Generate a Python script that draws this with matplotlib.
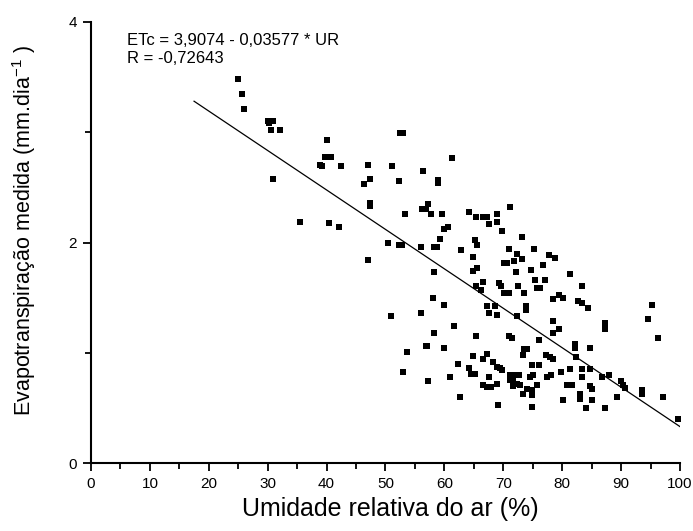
import matplotlib
matplotlib.use('Agg')
import matplotlib.pyplot as plt
from matplotlib.ticker import MultipleLocator

plt.rcParams['font.family'] = ['Liberation Sans', 'DejaVu Sans']
plt.rcParams['mathtext.fontset'] = 'custom'
plt.rcParams['mathtext.rm'] = 'Liberation Sans'
plt.rcParams['mathtext.it'] = 'Liberation Sans'

umidade = [24.9, 25.6, 25.9, 30.1, 30.9, 30.2, 30.5, 32.1, 30.9, 40.0,
           39.7, 40.8, 38.9, 39.2, 42.5, 47.0, 47.4, 46.4, 47.4, 47.4,
           35.5, 40.4, 42.1, 47.0, 51.1, 52.5, 53.0, 56.3, 52.3, 58.9,
           58.9, 61.3, 53.3, 56.2, 56.9, 57.2, 57.7, 59.6, 64.2, 65.3,
           66.6, 67.3, 67.5, 68.9, 68.9, 71.2, 60.6, 59.9, 59.3, 69.8,
           73.2, 50.4, 52.3, 52.8, 56.0, 58.3, 58.7, 62.9, 65.2, 65.5,
           64.9, 70.9, 72.4, 73.1, 71.8, 70.2, 70.7, 72.1, 74.7, 58.3,
           65.5, 64.9, 66.6, 65.3, 66.2, 69.2, 69.6, 72.5, 70.2, 70.9,
           73.5, 58.0, 59.9, 67.2, 68.6, 67.5, 68.9, 73.8, 73.8, 72.4,
           51.0, 56.0, 61.6, 58.3, 65.3, 70.9, 71.4, 75.2, 77.8, 78.7,
           76.8, 75.4, 77.1, 75.7, 76.2, 81.4, 83.4, 78.4, 79.5, 80.1,
           82.7, 83.4, 84.4, 78.4, 79.5, 78.4, 87.2, 87.3, 95.3, 94.6,
           96.3, 76.1, 56.8, 57.1, 59.9, 53.7, 64.9, 67.3, 66.5, 68.2,
           68.9, 62.3, 64.2, 64.6, 65.2, 53.0, 67.5, 66.5, 67.2, 68.0,
           68.9, 61.0, 57.3, 62.6, 69.1, 82.1, 82.1, 84.7, 73.6, 74.1,
           73.4, 77.3, 77.9, 78.4, 82.4, 69.4, 69.7, 74.8, 76.1, 83.4,
           84.7, 81.4, 79.8, 71.1, 72.0, 72.6, 71.1, 71.7, 72.3, 72.8,
           71.7, 75.1, 74.5, 78.1, 77.4, 83.4, 86.7, 88.0, 90.0, 90.4,
           90.7, 75.7, 80.8, 81.7, 84.7, 85.1, 93.6, 93.6, 97.2, 74.1,
           74.8, 73.4, 74.8, 83.0, 83.0, 89.3, 80.1, 85.1, 74.8, 84.0,
           87.3, 99.7]
etc = [3.48, 3.35, 3.21, 3.10, 3.10, 3.08, 3.02, 3.02, 2.58, 2.93,
       2.78, 2.78, 2.70, 2.69, 2.69, 2.70, 2.58, 2.53, 2.36, 2.33,
       2.19, 2.18, 2.14, 1.84, 2.69, 2.99, 2.99, 2.65, 2.56, 2.57,
       2.54, 2.77, 2.26, 2.30, 2.30, 2.35, 2.26, 2.26, 2.28, 2.23,
       2.23, 2.23, 2.17, 2.26, 2.19, 2.32, 2.14, 2.12, 2.03, 2.10,
       2.05, 2.00, 1.98, 1.98, 1.96, 1.96, 1.96, 1.93, 2.02, 1.98,
       1.87, 1.94, 1.90, 1.85, 1.83, 1.81, 1.81, 1.73, 1.75, 1.73,
       1.77, 1.74, 1.64, 1.61, 1.57, 1.63, 1.61, 1.61, 1.54, 1.54,
       1.54, 1.50, 1.43, 1.42, 1.42, 1.36, 1.34, 1.42, 1.39, 1.33,
       1.33, 1.36, 1.24, 1.18, 1.15, 1.15, 1.13, 1.94, 1.89, 1.86,
       1.80, 1.66, 1.66, 1.59, 1.59, 1.71, 1.61, 1.49, 1.52, 1.50,
       1.47, 1.45, 1.41, 1.29, 1.22, 1.18, 1.27, 1.22, 1.43, 1.31,
       1.13, 1.12, 1.06, 1.06, 1.04, 1.01, 0.97, 0.99, 0.94, 0.92,
       0.87, 0.90, 0.86, 0.81, 0.81, 0.83, 0.78, 0.71, 0.69, 0.69,
       0.72, 0.78, 0.74, 0.60, 0.53, 1.08, 1.04, 1.04, 1.03, 1.03,
       0.98, 0.98, 0.96, 0.94, 0.96, 0.86, 0.84, 0.89, 0.89, 0.85,
       0.85, 0.85, 0.83, 0.80, 0.80, 0.80, 0.75, 0.74, 0.72, 0.71,
       0.70, 0.80, 0.78, 0.80, 0.78, 0.78, 0.78, 0.80, 0.74, 0.71,
       0.68, 0.71, 0.71, 0.71, 0.70, 0.67, 0.66, 0.63, 0.60, 0.67,
       0.66, 0.63, 0.62, 0.63, 0.58, 0.60, 0.57, 0.57, 0.51, 0.50,
       0.50, 0.40]

# linear fit shown in the figure
intercept = 3.9074
slope = -0.03577
fit_x = [17.5, 100]

fig = plt.figure(figsize=(6.93, 5.31), dpi=100)
ax = fig.add_axes([0.1313, 0.128, 0.8499, 0.8306])

ax.scatter(umidade, etc, marker='s', s=25, color='black', linewidths=0)
ax.plot(fit_x, [intercept + slope * v for v in fit_x], color='black', lw=0.9)

ax.set_xlim(0, 100)
ax.set_ylim(0, 4)
ax.xaxis.set_major_locator(MultipleLocator(10))
ax.xaxis.set_minor_locator(MultipleLocator(5))
ax.yaxis.set_major_locator(MultipleLocator(2))
ax.yaxis.set_minor_locator(MultipleLocator(1))
ax.tick_params(which='major', direction='out', length=6, width=1.3, labelsize=11, pad=4)
ax.tick_params(which='minor', direction='out', length=4, width=1.3)

for s in ['top', 'right']:
    ax.spines[s].set_visible(False)
for s in ['left', 'bottom']:
    ax.spines[s].set_linewidth(1.5)

ax.set_xlabel('Umidade relativa do ar (%)', fontsize=18)
ax.set_ylabel('Evapotranspiração medida (mm.dia$^{-1}$ )', fontsize=15.5)
ax.xaxis.set_label_coords(0.508, -0.078)
ax.yaxis.set_label_coords(-0.09, 0.528)

ax.text(0.061, 0.975, 'ETc = 3,9074 - 0,03577 * UR\nR = -0,72643',
        transform=ax.transAxes, fontsize=12, va='top', ha='left', linespacing=1.25)

fig.savefig('out.png', dpi=100)
